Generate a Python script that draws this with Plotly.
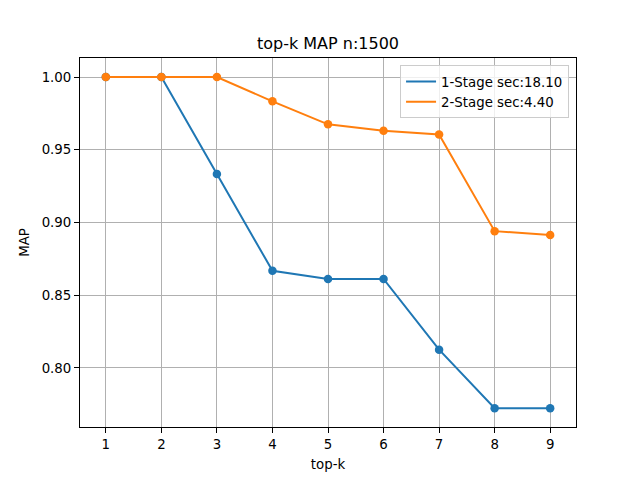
import plotly.graph_objects as go

topk = [1, 2, 3, 4, 5, 6, 7, 8, 9]
stage1 = [1.0, 1.0, 0.9333, 0.8667, 0.8611, 0.8611, 0.8125, 0.7722, 0.7722]
stage2 = [1.0, 1.0, 1.0, 0.9833, 0.9675, 0.9630, 0.9605, 0.8940, 0.8913]
names = ["1-Stage sec:18.10", "2-Stage sec:4.40"]
colors = ["#1f77b4", "#ff7f0e"]
yticks = [0.80, 0.85, 0.90, 0.95, 1.00]

fig = go.Figure()
for ys, nm, c in zip([stage1, stage2], names, colors):
    fig.add_trace(go.Scatter(x=topk, y=ys, mode="lines", name=nm,
                             line=dict(color=c, width=2)))
    fig.add_trace(go.Scatter(x=topk, y=ys, mode="markers", showlegend=False,
                             marker=dict(color=c, size=8.5), hoverinfo="skip"))

font = dict(family="DejaVu Sans", size=13.33, color="black")
axis_common = dict(showgrid=True, gridcolor="#b0b0b0", gridwidth=1,
                   showline=True, linecolor="black", linewidth=1, mirror=True,
                   ticks="outside", ticklen=5, tickcolor="black", tickwidth=1,
                   zeroline=False, tickfont=font)
fig.update_layout(
    width=640, height=480,
    margin=dict(l=80, r=64, t=58, b=53),
    paper_bgcolor="white", plot_bgcolor="white",
    font=font,
    title=dict(text="top-k MAP n:1500", x=(80 + 576) / 2 / 640, xanchor="center",
               y=1 - 43 / 480, yanchor="middle", font=dict(family="DejaVu Sans", size=16)),
    xaxis=dict(range=[0.535, 9.465], tickvals=topk, ticktext=[str(t) for t in topk],
               title=dict(text="top-k", font=font, standoff=8), **axis_common),
    yaxis=dict(range=[0.7593, 1.0131], tickvals=yticks, ticktext=[f"{v:.2f}" for v in yticks],
               title=dict(text="MAP", font=font, standoff=8), **axis_common),
    legend=dict(x=0.986, y=0.98, xanchor="right", yanchor="top",
                bgcolor="rgba(255,255,255,0.8)", bordercolor="#cccccc", borderwidth=1,
                font=font, tracegroupgap=0, itemwidth=30),
    showlegend=True,
)
fig.write_html("out.html")
